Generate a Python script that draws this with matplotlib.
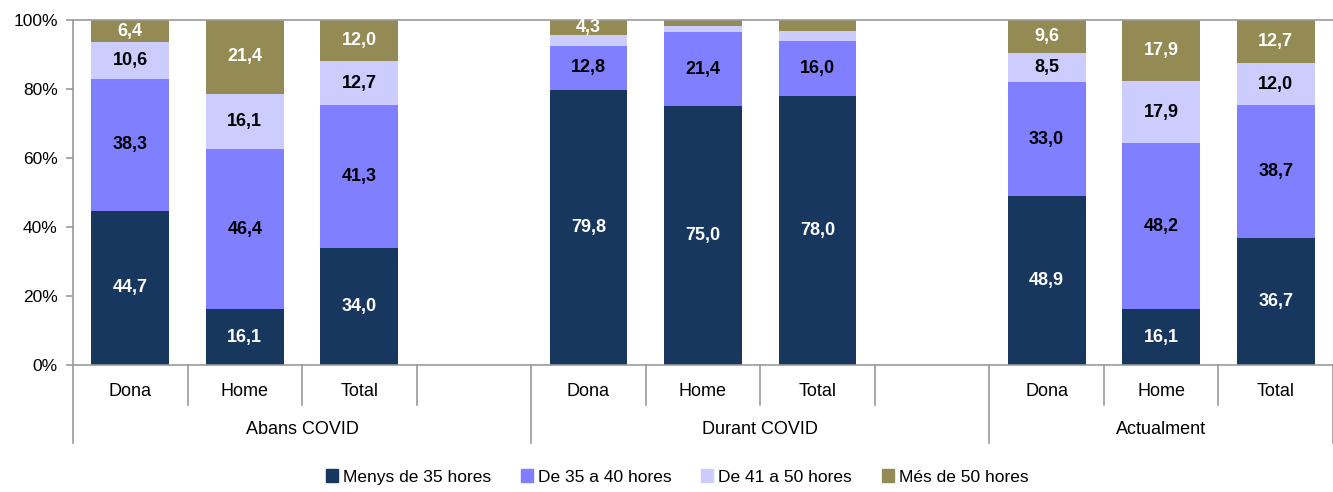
import matplotlib
matplotlib.use("Agg")
import matplotlib.pyplot as plt
import numpy as np
from matplotlib.lines import Line2D
from matplotlib.transforms import blended_transform_factory

plt.rcParams['font.family'] = ['Liberation Sans', 'DejaVu Sans']

categories = ['Dona', 'Home', 'Total', '', 'Dona', 'Home', 'Total', '', 'Dona', 'Home', 'Total']
groups = ['Abans COVID', 'Durant COVID', 'Actualment']
series_names = ['Menys de 35 hores', 'De 35 a 40 hores', 'De 41 a 50 hores', 'Més de 50 hores']
nan = np.nan
menys35 = [44.7, 16.1, 34.0, nan, 79.8, 75.0, 78.0, nan, 48.9, 16.1, 36.7]
de35a40 = [38.3, 46.4, 41.3, nan, 12.8, 21.4, 16.0, nan, 33.0, 48.2, 38.7]
de41a50 = [10.6, 16.1, 12.7, nan, 3.1, 1.8, 2.7, nan, 8.5, 17.9, 12.0]
mes50 = [6.4, 21.4, 12.0, nan, 4.3, 1.8, 3.3, nan, 9.6, 17.9, 12.7]

colors = ['#17375E', '#7F7FFF', '#CCCCFF', '#948A54']
label_colors = ['white', 'black', 'black', 'white']
series = [menys35, de35a40, de41a50, mes50]

W, H = 1333, 492
fig = plt.figure(figsize=(W / 100, H / 100), dpi=100)
left, right, top, bottom = 73, 1333, 20, 365
ax = fig.add_axes([left / W, (H - bottom) / H, (right - left) / W, (bottom - top) / H])

x = np.arange(len(categories))
base = np.zeros(len(categories))
for vals, col, lc, name in zip(series, colors, label_colors, series_names):
    v = np.array(vals, dtype=float)
    vv = np.nan_to_num(v)
    ax.bar(x, vv, bottom=base, width=0.68, color=col, label=name, linewidth=0)
    for xi, val, b in zip(x, v, base):
        if not np.isnan(val) and val >= 4:
            ax.text(xi, b + val / 2, f"{val:.1f}".replace('.', ','), ha='center', va='center',
                    color=lc, fontsize=13, fontweight='bold')
    base = base + vv

ax.set_xlim(-0.5, len(categories) - 0.5)
ax.set_ylim(0, 100)
ax.set_yticks([0, 20, 40, 60, 80, 100])
ax.set_yticklabels([f"{t}%" for t in [0, 20, 40, 60, 80, 100]], fontsize=12.5)
ax.set_xticks([])
for s in ['left', 'bottom', 'top']:
    ax.spines[s].set_color('#999999')
    ax.spines[s].set_linewidth(1.2)
ax.spines['right'].set_visible(False)
ax.tick_params(axis='y', direction='out', length=5, color='#999999', width=1.2, pad=6)

trans = blended_transform_factory(ax.transData, ax.transAxes)
px = 1.0 / (bottom - top)
# category labels
for xi, c in zip(x, categories):
    if c:
        ax.text(xi, -26 * px, c, transform=trans, ha='center', va='center', fontsize=13)
# category separators
for i in range(len(categories) + 1):
    xb = i - 0.5
    is_group = (i % 4 == 0) or i == len(categories)
    length = 78 if is_group else 40
    ax.add_line(Line2D([xb, xb], [0, -length * px], transform=trans, color='#999999',
                       linewidth=1.2, clip_on=False))
# group labels
group_spans = [(0, 3), (4, 7), (8, 10)]
for g, (a, b) in zip(groups, group_spans):
    ax.text((a + b) / 2 if b != 10 else 9, -65 * px, g, transform=trans, ha='center', va='center', fontsize=13)

handles = [plt.Rectangle((0, 0), 1, 1, color=c) for c in colors]
fig.legend(handles, series_names, loc='center', bbox_to_anchor=(0.508, (H - 477) / H), ncol=4,
           frameon=False, fontsize=12.5, handlelength=0.7, handleheight=0.7, handletextpad=0.3,
           columnspacing=1.7)

fig.savefig('out.png', dpi=100)
